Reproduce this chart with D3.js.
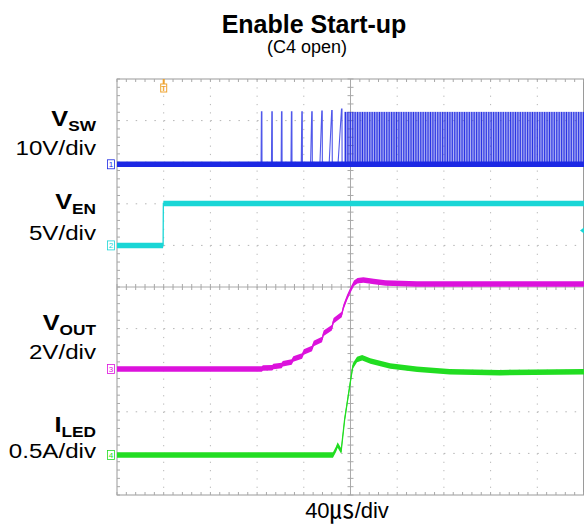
<!DOCTYPE html>
<html>
<head>
<meta charset="utf-8">
<script src="https://cdn.jsdelivr.net/npm/d3@7"></script>
<style>
  body { margin: 0; background: #fff; }
  svg { display: block; font-family: "Liberation Sans", Arial, sans-serif; }
</style>
</head>
<body>
<svg id="chart" width="584" height="524"></svg>
<script>
// scope screen: 10 divisions of 40us across, 10 divisions down
const timeDomain = [0, 400];
const timePerDiv = 40;

// channel setup (offset in divisions from centre, units per division)
const chNames   = ['VSW', 'VEN', 'VOUT', 'ILED'];
const chMain    = ['V', 'V', 'V', 'I'];
const chSub     = ['SW', 'EN', 'OUT', 'LED'];
const chScale   = ['10V/div', '5V/div', '2V/div', '0.5A/div'];
const chPerDiv  = [10, 5, 2, 0.5];
const chOffset  = [2.95, 1.0, -1.97, -4.04];
const chColors  = ['#1c28e4', '#1ad6d6', '#dc12dc', '#22dd22'];

// VSW: single pulses during soft start, then continuous switching
const swPulseT  = [123.9, 132.8, 141.1, 149.6, 158.5, 167.0, 175.6, 184.1, 192.5];
const swPulseW  = [0.5, 0.5, 0.5, 0.6, 0.7, 1.2, 1.8, 2.4, 3.2];
const swPulseV  = [12.6, 12.6, 12.6, 12.6, 12.6, 12.6, 12.8, 12.9, 13.3];
const swDenseStart = 194.5;
const swDenseV  = 12.6;

// VEN step at the trigger
const enT = [0, 39.5, 39.7, 400];
const enV = [0, 0, 5.05, 5.05];
const enTrigLevel = 1.8;

// VOUT ramp with steps from each pulse
const outT = [0, 120, 124, 125, 133, 134, 141, 142, 149.6, 151, 158.5, 160, 167, 168.5,
              175.6, 177, 184, 185.5, 192.5, 194, 197, 200, 203, 206, 211, 220, 230, 257, 400];
const outV = [0, 0, 0, 0.05, 0.06, 0.12, 0.16, 0.25, 0.34, 0.48, 0.62, 0.82, 0.98, 1.22,
              1.42, 1.72, 1.98, 2.32, 2.62, 2.98, 3.42, 3.8, 4.12, 4.24, 4.28, 4.2, 4.13, 4.09, 4.09];

// ILED
const ledT = [0, 185, 187.6, 189, 192, 195, 200, 202, 205.6, 210, 217, 234, 257, 285, 328, 400];
const ledA = [0, 0, 0.07, 0.12, 0.05, 0.43, 0.89, 1.07, 1.15, 1.17, 1.13, 1.07, 1.03, 1.0, 0.99, 1.0];

const svg = d3.select('#chart');

const x = d3.scaleLinear().domain(timeDomain).range([117, 584]);
const yDiv = d3.scaleLinear().domain([-5, 5]).range([495, 79]);
const chY = (i, v) => yDiv(chOffset[i] + v / chPerDiv[i]);

// ---------- grid ----------
const grid = svg.append('g');
const divT = d3.range(timeDomain[0], timeDomain[1] + 0.01, timePerDiv);
const divV = d3.range(-5, 5.01, 1);

// dotted division lines
grid.selectAll('.vdot')
  .data(divT.filter(t => t > 0 && t < 400 && t !== 200))
  .join('line')
  .attr('x1', d => x(d)).attr('x2', d => x(d))
  .attr('y1', yDiv(5)).attr('y2', yDiv(-5))
  .attr('stroke', '#b4b4b4')
  .attr('stroke-dasharray', '1.2,7.12');

grid.selectAll('.hdot')
  .data(divV.filter(v => v > -5 && v < 5 && v !== 0))
  .join('line')
  .attr('x1', x(0)).attr('x2', x(400))
  .attr('y1', d => yDiv(d)).attr('y2', d => yDiv(d))
  .attr('stroke', '#b4b4b4')
  .attr('stroke-dasharray', '1.5,7.84');

// centre cross + border
const minorT = d3.range(0, 400.01, timePerDiv / 5);
const minorV = d3.range(-5, 5.01, 0.2);
grid.append('line').attr('x1', x(200)).attr('x2', x(200)).attr('y1', yDiv(5)).attr('y2', yDiv(-5)).attr('stroke', '#aaa');
grid.append('line').attr('x1', x(0)).attr('x2', x(400)).attr('y1', yDiv(0)).attr('y2', yDiv(0)).attr('stroke', '#aaa');
grid.append('rect')
  .attr('x', x(0)).attr('y', yDiv(5))
  .attr('width', x(400) - x(0) - 0.5).attr('height', yDiv(-5) - yDiv(5))
  .attr('fill', 'none').attr('stroke', '#9a9a9a');

const ticks = [];
minorT.forEach(t => {
  ticks.push([x(t), yDiv(0) - 3, x(t), yDiv(0) + 3]);
  ticks.push([x(t), yDiv(5), x(t), yDiv(5) + 3]);
  ticks.push([x(t), yDiv(-5), x(t), yDiv(-5) - 3]);
});
minorV.forEach(v => {
  ticks.push([x(200) - 3, yDiv(v), x(200) + 3, yDiv(v)]);
  ticks.push([x(0), yDiv(v), x(0) + 3, yDiv(v)]);
});
grid.selectAll('.tick')
  .data(ticks)
  .join('line')
  .attr('x1', d => d[0]).attr('y1', d => d[1])
  .attr('x2', d => d[2]).attr('y2', d => d[3])
  .attr('stroke', '#a8a8a8');

// ---------- traces ----------
const band = 5.5;
function drawTrace(i, ts, vs) {
  const pts = ts.map((t, k) => [t, vs[k]]);
  const area = d3.area()
    .x(d => x(d[0]))
    .y0(d => chY(i, d[1]) - band / 2)
    .y1(d => chY(i, d[1]) + band / 2);
  const line = d3.line().x(d => x(d[0])).y(d => chY(i, d[1]));
  svg.append('path').attr('d', area(pts)).attr('fill', chColors[i]);
  svg.append('path').attr('d', line(pts)).attr('fill', 'none')
    .attr('stroke', chColors[i]).attr('stroke-width', 1.3);
}

// VSW
const defs = svg.append('defs');
defs.append('pattern')
  .attr('id', 'swfill')
  .attr('patternUnits', 'userSpaceOnUse')
  .attr('width', 1.7).attr('height', 10)
  .append('rect').attr('width', 1.15).attr('height', 10).attr('fill', '#2630e2');

svg.append('rect')
  .attr('x', x(swDenseStart)).attr('y', chY(0, swDenseV))
  .attr('width', x(400) - x(swDenseStart)).attr('height', chY(0, 0) - chY(0, swDenseV))
  .attr('fill', 'url(#swfill)');

swPulseT.forEach((t, k) => {
  const w = swPulseW[k];
  const pts = [[t - w, 0], [t - 0.2, swPulseV[k]], [t + 0.2, swPulseV[k]], [t + 0.3, 0]];
  svg.append('path')
    .attr('d', d3.line().x(d => x(d[0])).y(d => chY(0, d[1]))(pts))
    .attr('fill', 'none').attr('stroke', '#5058ea').attr('stroke-width', 1.1);
});
drawTrace(0, [0, 400], [0, 0]);

drawTrace(1, enT, enV);
drawTrace(2, outT, outV);
drawTrace(3, ledT, ledA);

// ---------- markers ----------
chNames.forEach((n, i) => {
  const yy = chY(i, 0);
  const g = svg.append('g');
  g.append('rect')
    .attr('x', 107.5).attr('y', yy - 4.5).attr('width', 7).attr('height', 9)
    .attr('fill', '#fff').attr('stroke', chColors[i]).attr('stroke-width', 0.8);
  g.append('text')
    .attr('x', 111).attr('y', yy + 3)
    .attr('text-anchor', 'middle').attr('font-size', 8)
    .attr('fill', chColors[i]).text(i + 1);
});

// trigger position
const trig = svg.append('g').attr('stroke', '#eea22e');
trig.append('line').attr('x1', x(40)).attr('x2', x(40)).attr('y1', 79).attr('y2', 84)
  .attr('stroke-width', 2);
trig.append('rect').attr('x', x(40) - 3).attr('y', 84).attr('width', 6).attr('height', 8)
  .attr('fill', '#fff');
trig.append('text').attr('x', x(40)).attr('y', 91).attr('text-anchor', 'middle')
  .attr('font-size', 8).attr('font-weight', 'bold').attr('fill', '#eea22e')
  .attr('stroke', 'none').text('T');

// trigger level on ch2
const ty = chY(1, enTrigLevel);
svg.append('path')
  .attr('d', `M${x(400) - 4},${ty} l4,-3 v6 z`)
  .attr('fill', chColors[1]);

// ---------- text ----------
svg.append('text')
  .attr('x', 314).attr('y', 33).attr('text-anchor', 'middle')
  .attr('font-size', 25).attr('font-weight', 'bold')
  .text('Enable Start-up');
svg.append('text')
  .attr('x', 307).attr('y', 53).attr('text-anchor', 'middle')
  .attr('font-size', 18)
  .text('(C4 open)');

// channel names and scales, slightly wide like the source lettering
const labelY = [126, 209, 330, 432];
const scaleY = [155, 240, 359, 458];
const labels = svg.append('g').attr('transform', 'translate(96,0) scale(1.15,1) translate(-96,0)');
chNames.forEach((n, i) => {
  const t = labels.append('text')
    .attr('x', 96).attr('y', labelY[i]).attr('text-anchor', 'end')
    .attr('font-size', 22).attr('font-weight', 'bold');
  t.append('tspan').text(chMain[i]);
  t.append('tspan').attr('font-size', 15).attr('dy', 5).text(chSub[i]);
  labels.append('text')
    .attr('x', 96).attr('y', scaleY[i]).attr('text-anchor', 'end')
    .attr('font-size', 21).text(chScale[i]);
});

const xl = svg.append('text')
  .attr('x', 347).attr('y', 518).attr('text-anchor', 'middle')
  .attr('font-size', 22);
xl.append('tspan').text(timePerDiv);
xl.append('tspan').attr('font-family', '"Noto Sans CJK JP"').attr('font-size', 25).text('㎲');
xl.append('tspan').text('/div');
</script>
</body>
</html>
